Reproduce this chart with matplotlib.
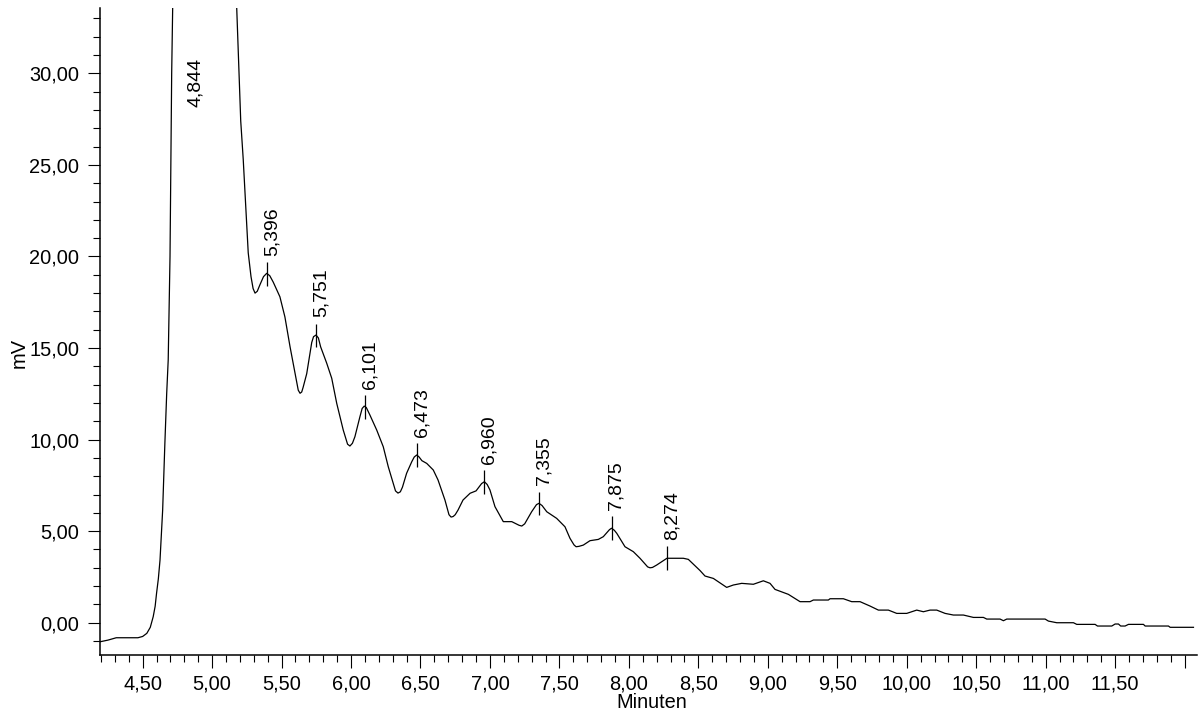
"""
plot.py
───────
Chromatogram trace (mV vs. Minuten) with labelled retention times.
"""

import numpy as np
import matplotlib
matplotlib.use("Agg")
import matplotlib.pyplot as plt
from matplotlib.ticker import MultipleLocator, FixedLocator, FixedFormatter


# ──────────────────────────────────────────────
# Detector trace
time_min = [
    4.193, 4.25, 4.31, 4.466, 4.50, 4.53, 4.555, 4.576, 4.59, 4.60, 4.613,
    4.625, 4.644, 4.66, 4.673, 4.684, 4.697, 4.709, 4.72, 4.76, 4.80, 4.844,
    4.90, 5.00, 5.10, 5.15, 5.177, 5.206, 5.224, 5.245, 5.26, 5.28, 5.295,
    5.309, 5.325, 5.344, 5.37, 5.393, 5.415, 5.44, 5.488, 5.524, 5.561,
    5.597, 5.62, 5.633, 5.645, 5.655, 5.681, 5.717, 5.73, 5.748, 5.765,
    5.781, 5.825, 5.861, 5.897, 5.944, 5.975, 5.992, 6.01, 6.028, 6.064,
    6.08, 6.095, 6.11, 6.136, 6.185, 6.232, 6.268, 6.304, 6.32, 6.338, 6.355,
    6.37, 6.40, 6.437, 6.455, 6.473, 6.49, 6.51, 6.545, 6.592, 6.626, 6.676,
    6.705, 6.72, 6.735, 6.75, 6.77, 6.806, 6.857, 6.90, 6.94, 6.96, 6.98,
    7.00, 7.036, 7.096, 7.157, 7.21, 7.229, 7.25, 7.30, 7.335, 7.353, 7.375,
    7.409, 7.48, 7.54, 7.576, 7.605, 7.62, 7.64, 7.672, 7.72, 7.78, 7.816,
    7.86, 7.875, 7.895, 7.913, 7.972, 8.032, 8.08, 8.135, 8.152, 8.17, 8.20,
    8.274, 8.392, 8.428, 8.512, 8.548, 8.608, 8.704, 8.752, 8.812, 8.896,
    8.968, 9.016, 9.052, 9.148, 9.232, 9.304, 9.328, 9.436, 9.448, 9.544,
    9.604, 9.664, 9.736, 9.796, 9.868, 9.928, 10.0, 10.072, 10.12, 10.168,
    10.216, 10.276, 10.336, 10.408, 10.48, 10.552, 10.576, 10.672, 10.696,
    10.72, 10.996, 11.02, 11.08, 11.2, 11.224, 11.356, 11.373, 11.476, 11.5,
    11.524, 11.54, 11.572, 11.596, 11.704, 11.716, 11.884, 11.896, 12.064,
]
signal_mv = [
    -1.04, -0.95, -0.82, -0.82, -0.75, -0.58, -0.25, 0.33, 0.9, 1.6, 2.4,
    3.42, 6.15, 9.8, 12.5, 14.35, 20.0, 30.0, 35.5, 60.0, 85.0, 95.0,
    88.0, 68.0, 47.0, 38.5, 33.6, 27.4, 25.3, 22.3, 20.2, 18.9, 18.25,
    18.0, 18.1, 18.45, 18.9, 19.08, 18.95, 18.6, 17.8, 16.7, 15.07,
    13.62, 12.7, 12.53, 12.6, 12.85, 13.6, 15.3, 15.62, 15.71, 15.55,
    15.07, 14.17, 13.35, 11.98, 10.52, 9.75, 9.65, 9.8, 10.16, 11.25,
    11.7, 11.83, 11.75, 11.34, 10.52, 9.61, 8.52, 7.6, 7.2, 7.08, 7.15,
    7.4, 8.16, 8.79, 9.05, 9.16, 9.05, 8.85, 8.7, 8.34, 7.8, 6.7,
    5.9, 5.77, 5.8, 5.9, 6.15, 6.7, 7.07, 7.2, 7.6, 7.70, 7.55,
    7.25, 6.34, 5.52, 5.52, 5.32, 5.28, 5.4, 6.06, 6.45, 6.52, 6.4,
    6.06, 5.70, 5.24, 4.61, 4.25, 4.15, 4.17, 4.24, 4.48, 4.55, 4.70,
    5.08, 5.16, 5.05, 4.88, 4.15, 3.88, 3.52, 3.05, 3.0, 3.02, 3.15,
    3.52, 3.52, 3.46, 2.85, 2.55, 2.42, 1.93, 2.06, 2.15, 2.10,
    2.29, 2.15, 1.82, 1.55, 1.15, 1.15, 1.24, 1.24, 1.31, 1.31,
    1.15, 1.15, 0.91, 0.69, 0.69, 0.51, 0.51, 0.69, 0.60, 0.69,
    0.69, 0.51, 0.42, 0.42, 0.29, 0.29, 0.20, 0.20, 0.11,
    0.20, 0.20, 0.09, 0.0, 0.0, -0.09, -0.09, -0.18, -0.18, -0.07,
    -0.07, -0.18, -0.18, -0.09, -0.09, -0.18, -0.18, -0.25, -0.25,
]

# Integrated peaks (retention times in min)
peak_rt = [4.844, 5.396, 5.751, 6.101, 6.473, 6.960, 7.355, 7.875, 8.274]

# Axis ticks
x_major = [4.5, 5.0, 5.5, 6.0, 6.5, 7.0, 7.5, 8.0, 8.5, 9.0, 9.5, 10.0,
           10.5, 11.0, 11.5, 12.0]
x_labels = ["4,50", "5,00", "5,50", "6,00", "6,50", "7,00", "7,50", "8,00",
            "8,50", "9,00", "9,50", "10,00", "10,50", "11,00", "11,50", ""]
y_major = [0, 5, 10, 15, 20, 25, 30]
y_labels = ["0,00", "5,00", "10,00", "15,00", "20,00", "25,00", "30,00"]


# ──────────────────────────────────────────────
FONT = ["Liberation Sans", "Arial", "DejaVu Sans"]
plt.rcParams["font.family"] = FONT

TICK_HALF = 0.65      # half height of the peak marker, mV
LABEL_CEIL = 27.8     # labels of off-scale peaks stop here


def plot_chromatogram(path="out.png"):
    fig = plt.figure(figsize=(11.99, 7.13), dpi=100)
    ax = fig.add_axes([0.0834, 0.0813, 0.9150, 0.9075])

    ax.plot(time_min, signal_mv, color="black", lw=0.9)

    # peak markers + rotated retention time labels
    heights = np.interp(peak_rt, time_min, signal_mv)
    ax.vlines(peak_rt, heights - TICK_HALF, heights + TICK_HALF,
              color="black", lw=0.9)
    for rt, h in zip(peak_rt, heights):
        ax.annotate(f"{rt:.3f}".replace(".", ","),
                    xy=(rt, min(h + TICK_HALF, LABEL_CEIL)),
                    xytext=(3.5, 4.5), textcoords="offset points",
                    rotation=90, ha="center", va="bottom", fontsize=14)

    ax.set_xlim(4.193, 12.09)
    ax.set_ylim(-1.764, 33.57)

    ax.xaxis.set_major_locator(FixedLocator(x_major))
    ax.xaxis.set_major_formatter(FixedFormatter(x_labels))
    ax.xaxis.set_minor_locator(MultipleLocator(0.1))
    ax.yaxis.set_major_locator(FixedLocator(y_major))
    ax.yaxis.set_major_formatter(FixedFormatter(y_labels))
    ax.yaxis.set_minor_locator(MultipleLocator(1))

    ax.tick_params(which="major", direction="out", length=9, width=0.8,
                   labelsize=14.4, pad=5)
    ax.tick_params(which="minor", direction="out", length=5, width=0.8)
    ax.tick_params(axis="y", which="major", pad=6)

    for side in ("top", "right"):
        ax.spines[side].set_visible(False)
    for side in ("left", "bottom"):
        ax.spines[side].set_linewidth(1.1)

    fig.text(0.0158, 0.505, "mV", rotation=90, ha="center", va="center",
             fontsize=14.4)
    fig.text(0.5438, 0.0154, "Minuten", ha="center", va="center",
             fontsize=14.4)

    fig.savefig(path, dpi=100)
    plt.close(fig)


if __name__ == "__main__":
    plot_chromatogram()
